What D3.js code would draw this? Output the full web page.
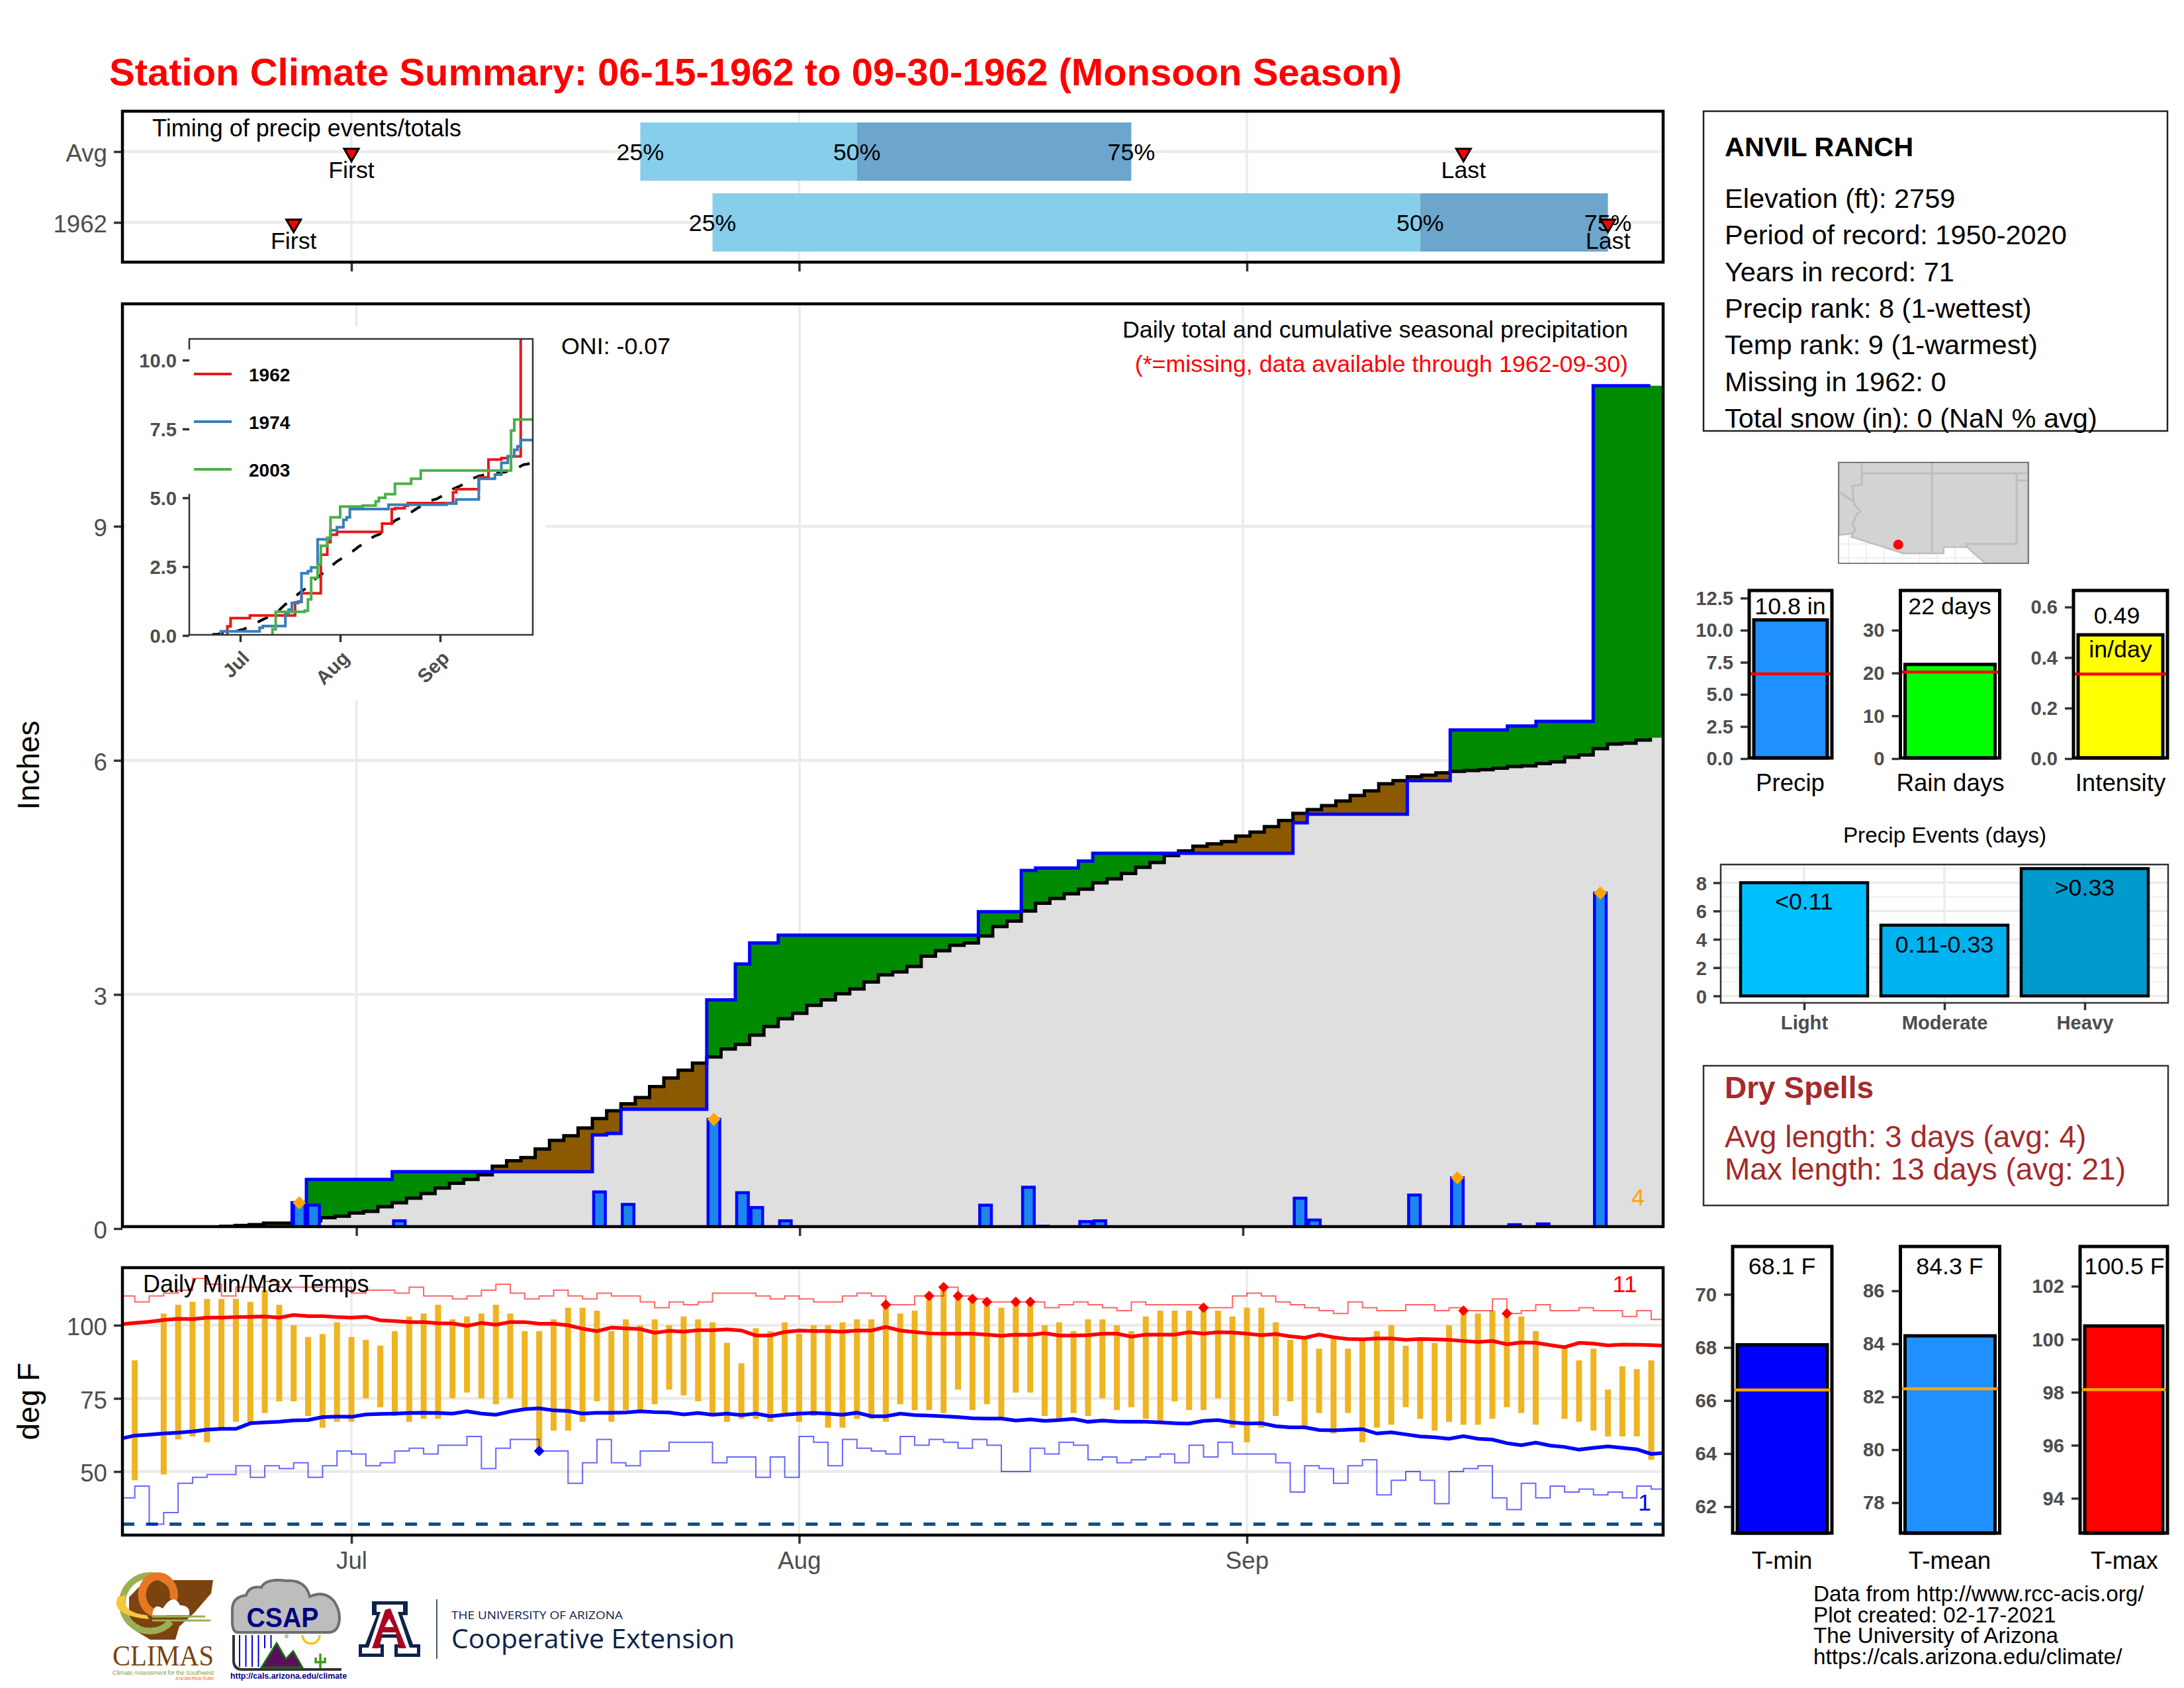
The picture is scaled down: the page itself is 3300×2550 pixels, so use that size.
<!DOCTYPE html>
<html>
<head>
<meta charset="utf-8">
<script src="https://cdn.jsdelivr.net/npm/d3@7"></script>
<style>
body { margin: 0; background: #fff; }
text { font-family: "Liberation Sans", Arial, sans-serif; }
</style>
</head>
<body>
<svg id="chart" width="3300" height="2550"></svg>
<script>
// days are counted from Jun 15 (0) to Sep 30 (107)
let monthDays = [16, 47, 78];
let monthLabels = ['Jul', 'Aug', 'Sep'];

let timingRows = ['Avg', '1962'];
let timingFirst = [16, 12];
let timing25 = [36, 41];
let timing50 = [51, 90];
let timing75 = [70, 103];
let timingLast = [93, 103];

let rainDays = [12, 13, 19, 33, 34, 35, 41, 43, 44, 46, 60, 63, 64, 67, 68, 82, 83, 90, 93, 97, 99, 103];
let rainTotals = [0.33, 0.30, 0.10, 0.47, 0.02, 0.31, 1.40, 0.46, 0.27, 0.10, 0.30, 0.53, 0.03, 0.09, 0.10, 0.39, 0.11, 0.43, 0.65, 0.05, 0.06, 4.30];
let extremeRainDays = [12, 41, 93, 103];

let avgCumulative = [
	0, 0, 0, 0, 0, 0, 0.02, 0.03, 0.04, 0.05, 0.07, 0.07, 0.09, 0.10, 0.14, 0.16, 0.20, 0.22,
	0.28, 0.33, 0.39, 0.45, 0.52, 0.58, 0.63, 0.69, 0.80, 0.87, 0.91, 1.02, 1.13, 1.19, 1.29,
	1.41, 1.51, 1.60, 1.68, 1.82, 1.93, 2.03, 2.12, 2.20, 2.30, 2.36, 2.48, 2.59, 2.69, 2.76,
	2.86, 2.93, 3.01, 3.07, 3.16, 3.25, 3.29, 3.36, 3.49, 3.56, 3.63, 3.66, 3.75, 3.87, 3.94,
	4.07, 4.17, 4.23, 4.29, 4.35, 4.43, 4.48, 4.55, 4.63, 4.69, 4.78, 4.84, 4.90, 4.93, 4.96,
	5.03, 5.08, 5.15, 5.23, 5.32, 5.37, 5.42, 5.48, 5.55, 5.61, 5.70, 5.74, 5.79, 5.81, 5.84,
	5.86, 5.87, 5.88, 5.90, 5.92, 5.93, 5.96, 5.98, 6.04, 6.07, 6.15, 6.21, 6.22, 6.26, 6.29
];

let inset1974Days = [0, 10, 22, 23, 30, 31, 32, 34, 35, 37, 38, 40, 44, 46, 48, 49, 50, 62, 80, 83, 90, 95, 97, 99, 101, 102, 103, 107];
let inset1974Totals = [0, 0.15, 0.28, 0.34, 0.77, 0.94, 1.18, 1.24, 2.26, 2.34, 2.47, 3.49, 3.82, 3.93, 4.20, 4.29, 4.59, 4.75, 4.79, 4.94, 5.69, 5.84, 6.27, 6.50, 6.74, 6.87, 7.10, 7.10];
let inset2003Days = [0, 26, 27, 36, 37, 38, 40, 41, 43, 44, 47, 54, 58, 59, 61, 64, 69, 72, 100, 101, 107];
let inset2003Totals = [0, 0.23, 0.86, 0.90, 1.31, 2.09, 2.58, 3.26, 3.55, 4.29, 4.68, 4.72, 4.87, 5.00, 5.13, 5.51, 5.69, 5.99, 7.44, 7.84, 7.84];

let dailyMax = [
	null, 88, null, 104, 107, 108, 109, 109, 109, 108, 112, 107, 100, 96, 97, 101, 96, 95, 93, 98,
	103, 104, 107, 102, 103, 104, 107, 104, 98, 98, 102, 106, 106, 105, 98, 102, 100, 102, 100, 103,
	102, 101, 94, 87, 99, 98, 101, 97, 100, 100, 101, 102, 102, 107, 104, 105, 110, 113, 110, 109,
	108, 106, 108, 108, 100, 101, 98, 102, 102, 100, 98, 103, 105, 105, 105, 106, 105, 103, 106, 106,
	101, 95, 96, 92, 96, 92, 95, 98, 100, 93, 95, 94, 100, 105, 104, 105, 104, 103, 98, null,
	92, 88, 92, 78, 86, 85, 88, null
];
let dailyMin = [
	null, 47, null, 49, 61, 62, 60, 65, 67, 67, 70, 74, 74, 69, 65, 67, 67, 75, 72, 69,
	67, 68, 68, 75, 77, 75, 73, 75, 72, 57, 64, 64, 67, 74, 67, 71, 70, 73, 78, 76,
	74, 70, 67, 68, 68, 67, 70, 67, 69, 65, 65, 68, 68, 67, 73, 71, 71, 70, 78, 71,
	73, 68, 77, 77, 69, 68, 70, 69, 75, 71, 72, 68, 67, 74, 71, 71, 75, 65, 60, 65,
	69, 74, 65, 70, 63, 70, 60, 65, 66, 72, 68, 64, 67, 66, 66, 68, 72, 70, 66, null,
	68, 67, 64, 62, 62, 62, 54, null
];
let recordHigh = [
	110, 108, 110, 111, 112, 116, 114, 110, 113, 113, 115, 113, 113, 113, 113, 113, 111, 112, 112, 111,
	113, 110, 110, 109, 110, 112, 114, 111, 109, 110, 112, 110, 109, 111, 110, 110, 108, 106, 108, 107,
	108, 111, 111, 111, 110, 109, 110, 109, 108, 108, 110, 111, 110, 107, 107, 110, 110, 113, 110, 109,
	108, 108, 108, 108, 106, 107, 108, 107, 106, 105, 108, 107, 107, 107, 107, 106, 106, 110, 111, 110,
	108, 107, 106, 105, 104, 108, 106, 105, 105, 107, 107, 105, 106, 105, 105, 109, 104, 105, 107, 105,
	105, 106, 105, 105, 103, 105, 102, 102
];
let recordLow = [
	41, 45, 32, 36, 46, 48, 49, 49, 52, 48, 52, 51, 53, 48, 52, 57, 56, 52, 53, 57,
	58, 56, 59, 59, 62, 51, 58, 61, 61, 57, 57, 46, 53, 61, 53, 52, 57, 57, 60, 60,
	60, 53, 55, 55, 48, 55, 48, 62, 60, 52, 61, 58, 57, 56, 62, 59, 61, 60, 58, 61,
	59, 50, 50, 58, 56, 60, 59, 54, 55, 53, 54, 55, 56, 53, 59, 55, 60, 56, 56, 56,
	53, 43, 52, 51, 46, 52, 54, 42, 47, 50, 47, 39, 50, 51, 52, 41, 37, 46, 41, 45,
	43, 44, 42, 43, 41, 45, 44, 44
];
let normalMax = [
	100.3, 100.8, 101.2, 101.8, 102.2, 102.1, 102.6, 102.6, 102.8, 102.9, 103.0, 102.6, 103.5, 103.1, 103.1, 102.8, 102.6, 102.9,
	101.7, 101.4, 101.1, 101.1, 100.7, 100.6, 99.8, 100.8, 100.2, 101.1, 101.1, 100.5, 100.5, 100.0, 98.8, 98.0, 99.2, 98.9,
	98.7, 97.4, 98.1, 97.8, 98.3, 98.3, 98.6, 98.2, 96.5, 96.5, 97.7, 98.2, 98.0, 98.0, 97.8, 98.2, 98.2, 99.4,
	98.2, 97.7, 97.2, 97.1, 97.1, 97.1, 96.8, 96.4, 96.8, 96.7, 97.3, 96.5, 96.5, 96.6, 97.1, 97.1, 96.1, 96.8,
	96.8, 96.8, 97.6, 97.1, 97.6, 97.5, 97.1, 96.6, 97.0, 96.2, 95.7, 96.8, 95.9, 95.3, 95.2, 95.5, 95.5, 95.0,
	95.3, 95.2, 95.0, 94.6, 94.3, 94.6, 93.5, 94.1, 94.0, 93.2, 92.5, 94.0, 93.7, 93.1, 93.4, 93.3, 93.2, 93.0
];
let normalMin = [
	61.2, 62.3, 62.6, 63.0, 63.3, 63.7, 64.3, 64.6, 64.6, 66.5, 66.8, 67.0, 67.5, 67.6, 68.6, 68.8, 68.7, 69.5,
	69.7, 69.8, 70.0, 70.1, 70.0, 69.8, 70.6, 69.8, 69.4, 70.5, 71.3, 71.6, 70.9, 70.7, 69.8, 70.1, 70.1, 70.2,
	70.6, 70.3, 70.2, 69.5, 70.0, 69.4, 69.8, 69.3, 69.8, 68.9, 69.4, 69.8, 70.0, 69.8, 69.4, 70.1, 68.9, 68.9,
	69.8, 69.3, 69.1, 68.9, 68.6, 68.2, 68.1, 68.1, 67.4, 67.8, 67.3, 67.6, 68.0, 67.0, 67.4, 67.1, 67.0, 67.0,
	66.8, 66.5, 66.4, 67.3, 67.6, 66.8, 66.4, 66.5, 65.5, 65.1, 65.1, 64.2, 64.1, 64.3, 64.5, 63.0, 63.4, 62.7,
	62.0, 61.7, 61.2, 62.1, 61.2, 60.9, 59.7, 59.0, 59.9, 58.9, 58.4, 57.5, 58.1, 58.6, 58.1, 57.6, 56.0, 56.4
];

let eventLabels = ['Light', 'Moderate', 'Heavy'];
let eventDays = [8, 5, 9];
let eventRanges = ['<0.11', '0.11-0.33', '>0.33'];
let eventColors = ['#00BFFF', '#00B2EE', '#009ACD'];

let infoLines = ['Elevation (ft): 2759', 'Period of record: 1950-2020', 'Years in record: 71',
	'Precip rank: 8 (1-wettest)', 'Temp rank: 9 (1-warmest)', 'Missing in 1962: 0', 'Total snow (in): 0 (NaN % avg)'];
let creditLines = ['Data from http://www.rcc-acis.org/', 'Plot created: 02-17-2021',
	'The University of Arizona', 'https://cals.arizona.edu/climate/'];

// state outline of the locator map, lon/lat
let mapBorder = [[-115.7, 37.85], [-115.7, 32.63], [-114.72, 32.72], [-114.81, 32.5], [-111.07, 31.33], [-108.21, 31.33],
	[-108.21, 31.78], [-106.53, 31.78], [-106.4, 31.65], [-105.2, 30.6], [-102.2, 30.6], [-102.2, 37.85]];
let mapStateLines = [
	[[-115.7, 35.7], [-114.63, 35.0], [-114.57, 34.8], [-114.14, 34.3], [-114.43, 34.1], [-114.72, 33.4], [-114.5, 33.0], [-114.72, 32.72]],
	[[-114.63, 35.0], [-114.74, 36.1], [-114.05, 36.2], [-114.05, 37.85]],
	[[-114.05, 37], [-102.2, 37]],
	[[-109.05, 37.85], [-109.05, 31.33]],
	[[-103, 37], [-103, 32], [-106.6, 32], [-106.53, 31.78]],
	[[-103, 36.5], [-102.2, 36.5]]
];
let stationLonLat = [-111.45, 31.95];

const GRID = '#EBEBEB';
const AXIS_TEXT = '#4D4D4D';
const TICK = '#333333';
const FONT_ANNOT = 35.8;
const FONT_AXIS = 36.7;
const FONT_SMALL = 29.2;

let allDays = d3.range(108);
let dailyPrecip = allDays.map(d => {
	let pos = rainDays.indexOf(d);
	return pos < 0 ? 0 : rainTotals[pos];
});
let cumulative = Array.from(d3.cumsum(dailyPrecip));

let svg = d3.select('#chart');
svg.append('rect').attr('width', 3300).attr('height', 2550).attr('fill', '#fff');

function addText(parent, x, y, txt, opts) {
	opts = opts || {};
	return parent.append('text')
		.attr('x', x)
		.attr('y', y)
		.attr('dy', '0.36em')
		.attr('text-anchor', opts.anchor || 'start')
		.attr('font-size', opts.size || FONT_ANNOT)
		.attr('font-weight', opts.weight || 'normal')
		.attr('fill', opts.fill || '#000')
		.text(txt);
}

function styleAxis(g, size, weight, leftDy) {
	g.select('.domain').remove();
	g.selectAll('line').attr('stroke', TICK).attr('stroke-width', 3.5);
	g.selectAll('text')
		.attr('font-size', size)
		.attr('font-weight', weight || 'normal')
		.attr('font-family', '"Liberation Sans", Arial, sans-serif')
		.attr('fill', AXIS_TEXT);
	// left axes sit a little lower than d3's default
	if (leftDy) {
		g.selectAll('text').attr('dy', leftDy);
	}
}

function addClip(id, x, y, w, h) {
	svg.append('clipPath').attr('id', id)
		.append('rect').attr('x', x).attr('y', y).attr('width', w).attr('height', h);
}

function addFrame(x, y, w, h, width, color) {
	svg.append('rect')
		.attr('x', x).attr('y', y).attr('width', w).attr('height', h)
		.attr('fill', 'none').attr('stroke', color || '#000').attr('stroke-width', width || 4.5);
}

function gridLines(parent, xs, ys, box, width) {
	xs.forEach(v => parent.append('line').attr('x1', v).attr('x2', v).attr('y1', box.top).attr('y2', box.bottom)
		.attr('stroke', GRID).attr('stroke-width', width));
	ys.forEach(v => parent.append('line').attr('y1', v).attr('y2', v).attr('x1', box.left).attr('x2', box.right)
		.attr('stroke', GRID).attr('stroke-width', width));
}

svg.append('text')
	.attr('x', 165).attr('y', 129)
	.attr('font-size', 58).attr('font-weight', 'bold').attr('fill', '#FF0000')
	.text('Station Climate Summary: 06-15-1962 to 09-30-1962 (Monsoon Season)');

// shared day scale of the timing and temperature panels
let seasonX = d3.scaleLinear().domain([16, 78]).range([531, 1884]);

drawTiming();
drawPrecip();
drawInset();
drawTemps();
drawInfo();
drawMap();
drawGauges();
drawEvents();
drawDrySpells();
drawTempGauges();
drawCredits();
drawLogos();

function drawTiming() {
	let box = { left: 185, right: 2513, top: 168, bottom: 396 };
	let y = d3.scalePoint().domain(timingRows).range([229, 336]);
	let g = svg.append('g');

	gridLines(g, monthDays.map(seasonX), [], box, 3.5);
	gridLines(g, [], timingRows.map(y), box, 4.5);

	timingRows.forEach((row, i) => {
		g.append('rect')
			.attr('x', seasonX(timing25[i])).attr('width', seasonX(timing50[i]) - seasonX(timing25[i]))
			.attr('y', y(row) - 44).attr('height', 88).attr('fill', '#87CEEB');
		g.append('rect')
			.attr('x', seasonX(timing50[i])).attr('width', seasonX(timing75[i]) - seasonX(timing50[i]))
			.attr('y', y(row) - 44).attr('height', 88).attr('fill', '#6CA6CD');
	});

	timingRows.forEach((row, i) => {
		addText(g, seasonX(timing25[i]), y(row), '25%', { anchor: 'middle' });
		addText(g, seasonX(timing50[i]), y(row), '50%', { anchor: 'middle' });
		addText(g, seasonX(timing75[i]), y(row), '75%', { anchor: 'middle' });
		[timingFirst[i], timingLast[i]].forEach(day => {
			g.append('path')
				.attr('d', d3.symbol().type(d3.symbolTriangle).size(209))
				.attr('transform', `translate(${seasonX(day)},${y(row) + 2}) rotate(180)`)
				.attr('fill', '#FF0000').attr('stroke', '#000').attr('stroke-width', 3);
		});
		addText(g, seasonX(timingFirst[i]), y(row) + 27, 'First', { anchor: 'middle' });
		addText(g, seasonX(timingLast[i]), y(row) + 27, 'Last', { anchor: 'middle' });
	});

	addText(g, 230, 193, 'Timing of precip events/totals', { size: 36 });

	let xAxis = svg.append('g').attr('transform', `translate(0,${box.bottom})`)
		.call(d3.axisBottom(seasonX).tickValues(monthDays).tickSize(14).tickFormat(''));
	styleAxis(xAxis, FONT_AXIS);
	let yAxis = svg.append('g').attr('transform', `translate(${box.left},0)`)
		.call(d3.axisLeft(y).tickSize(13).tickPadding(10));
	styleAxis(yAxis, FONT_AXIS, 'normal', '0.4em');
	addFrame(box.left, box.top, box.right - box.left, box.bottom - box.top);
}

function drawPrecip() {
	let box = { left: 185, right: 2513, top: 459, bottom: 1853 };
	let x = d3.scaleLinear().domain([16, 78]).range([538.6, 1878]);
	let y = d3.scaleLinear().domain([0, 9]).range([1856, 795]);
	addClip('precip-clip', box.left, box.top, box.right - box.left, box.bottom - box.top);
	let g = svg.append('g');

	gridLines(g, monthDays.map(x), [], box, 3.5);
	gridLines(g, [], [3, 6, 9].map(y), box, 4.5);

	let plot = g.append('g').attr('clip-path', 'url(#precip-clip)');
	// each day covers its own bar width, so steps sit on day edges
	let rows = allDays.map(d => ({ day: d, total: cumulative[d], avg: avgCumulative[d] }));
	rows.push({ day: 108, total: cumulative[107], avg: avgCumulative[107] });
	let area = d3.area().x(d => x(d.day - 0.5)).curve(d3.curveStepAfter);

	plot.append('path').datum(rows)
		.attr('fill', '#DFDFDF')
		.attr('d', area.y0(y(0)).y1(d => y(Math.min(d.total, d.avg))));
	plot.append('path').datum(rows)
		.attr('fill', '#008B00')
		.attr('d', area.y0(d => y(d.avg)).y1(d => y(Math.max(d.total, d.avg))));
	plot.append('path').datum(rows)
		.attr('fill', '#8B5A00')
		.attr('d', area.y0(d => y(d.total)).y1(d => y(Math.max(d.total, d.avg))));

	let lineRows = rows.slice(0, 108);
	plot.append('path').datum(lineRows)
		.attr('fill', 'none').attr('stroke', '#000').attr('stroke-width', 5)
		.attr('d', d3.line().x(d => x(d.day - 0.5)).y(d => y(d.avg)).curve(d3.curveStepAfter));
	plot.append('path').datum(lineRows)
		.attr('fill', 'none').attr('stroke', '#0000FF').attr('stroke-width', 5)
		.attr('d', d3.line().x(d => x(d.day - 0.5)).y(d => y(d.total)).curve(d3.curveStepAfter));

	plot.selectAll('.rain-bar')
		.data(rainDays)
		.enter()
		.append('rect')
		.attr('class', 'rain-bar')
		.attr('x', d => x(d) - 8.8)
		.attr('width', 17.6)
		.attr('y', d => y(dailyPrecip[d]))
		.attr('height', d => y(0) - y(dailyPrecip[d]))
		.attr('fill', '#1C86EE').attr('stroke', '#0000FF').attr('stroke-width', 4.5);

	plot.selectAll('.rain-extreme')
		.data(extremeRainDays)
		.enter()
		.append('path')
		.attr('class', 'rain-extreme')
		.attr('d', d3.symbol().type(d3.symbolDiamond2).size(255))
		.attr('transform', d => `translate(${x(d)},${y(dailyPrecip[d])})`)
		.attr('fill', '#FFA500');

	addText(g, 2475, 1808, String(extremeRainDays.length), { anchor: 'middle', fill: '#FFA500' });

	addText(g, 2460, 497, 'Daily total and cumulative seasonal precipitation', { anchor: 'end' });
	addText(g, 2460, 549, '(*=missing, data available through 1962-09-30)', { anchor: 'end', fill: '#FF0000' });
	addText(g, 848, 522, 'ONI: -0.07');

	let xAxis = svg.append('g').attr('transform', `translate(0,${box.bottom})`)
		.call(d3.axisBottom(x).tickValues(monthDays).tickSize(14).tickFormat(''));
	styleAxis(xAxis, FONT_AXIS);
	let yAxis = svg.append('g').attr('transform', `translate(${box.left},0)`)
		.call(d3.axisLeft(y).tickValues([0, 3, 6, 9]).tickSize(13).tickPadding(10));
	styleAxis(yAxis, FONT_AXIS, 'normal', '0.4em');

	svg.append('text')
		.attr('transform', 'translate(42,1156) rotate(-90)')
		.attr('dy', '0.36em').attr('text-anchor', 'middle').attr('font-size', 45.8).text('Inches');
	addFrame(box.left, box.top, box.right - box.left, box.bottom - box.top);
}

function drawInset() {
	let box = { left: 286, right: 805, top: 512, bottom: 959 };
	let x = d3.scaleLinear().domain([16, 78]).range([363, 665]);
	let y = d3.scaleLinear().domain([0, 10]).range([960, 544]);
	let g = svg.append('g');

	g.append('rect').attr('x', 190).attr('y', 493).attr('width', 635).attr('height', 565).attr('fill', '#fff');
	addClip('inset-clip', box.left, box.top, box.right - box.left, box.bottom - box.top);
	let plot = g.append('g').attr('clip-path', 'url(#inset-clip)');

	let step = d3.line().x(d => x(d[0])).y(d => y(d[1])).curve(d3.curveStepAfter);
	let series = [
		{ color: '#E41A1C', points: allDays.map(d => [d, cumulative[d]]) },
		{ color: '#377EB8', points: inset1974Days.map((d, i) => [d, inset1974Totals[i]]) },
		{ color: '#4DAF4A', points: inset2003Days.map((d, i) => [d, inset2003Totals[i]]) }
	];
	plot.append('path').datum(allDays.map(d => [d, avgCumulative[d]]))
		.attr('fill', 'none').attr('stroke', '#000').attr('stroke-width', 4)
		.attr('stroke-dasharray', '17,19')
		.attr('d', d3.line().x(d => x(d[0])).y(d => y(d[1])));
	series.forEach(s => {
		plot.append('path').datum(s.points)
			.attr('fill', 'none').attr('stroke', s.color).attr('stroke-width', 4)
			.attr('d', step);
	});

	g.append('rect')
		.attr('x', box.left).attr('y', box.top).attr('width', box.right - box.left).attr('height', box.bottom - box.top)
		.attr('fill', 'none').attr('stroke', TICK).attr('stroke-width', 2.5);

	// legend sits on top of the frame
	g.append('rect').attr('x', 283).attr('y', 528).attr('width', 160).attr('height', 218).attr('fill', '#fff');
	['1962', '1974', '2003'].forEach((label, i) => {
		let ly = 565 + i * 72;
		g.append('line').attr('x1', 293).attr('x2', 350).attr('y1', ly).attr('y2', ly)
			.attr('stroke', series[i].color).attr('stroke-width', 4);
		addText(g, 376, ly + 1, label, { size: 28, weight: 'bold' });
	});

	let xAxis = svg.append('g').attr('transform', `translate(0,${box.bottom})`)
		.call(d3.axisBottom(x).tickValues(monthDays).tickSize(11).tickFormat((d, i) => monthLabels[i]));
	styleAxis(xAxis, FONT_SMALL, 'bold');
	xAxis.selectAll('text')
		.attr('text-anchor', 'end').attr('dy', 0).attr('y', 0)
		.attr('transform', 'translate(15,37) rotate(-45)');
	let yAxis = svg.append('g').attr('transform', `translate(${box.left},0)`)
		.call(d3.axisLeft(y).tickValues([0, 2.5, 5, 7.5, 10]).tickFormat(d3.format('.1f')).tickSize(10).tickPadding(9));
	styleAxis(yAxis, FONT_SMALL, 'bold', '0.36em');
}

function drawTemps() {
	let box = { left: 185, right: 2513, top: 1915, bottom: 2319 };
	let x = seasonX;
	let y = d3.scaleLinear().domain([50, 100]).range([2223, 2002]);
	addClip('temp-clip', box.left, box.top, box.right - box.left, box.bottom - box.top);
	let g = svg.append('g');

	gridLines(g, monthDays.map(x), [], box, 3.5);
	gridLines(g, [], [50, 75, 100].map(y), box, 4.5);
	let plot = g.append('g').attr('clip-path', 'url(#temp-clip)');

	plot.append('line')
		.attr('x1', box.left).attr('x2', box.right).attr('y1', y(32)).attr('y2', y(32))
		.attr('stroke', '#104E8B').attr('stroke-width', 5).attr('stroke-dasharray', '18,17.6');

	let tempDays = allDays.filter(d => dailyMax[d] !== null);
	plot.selectAll('.temp-bar')
		.data(tempDays)
		.enter()
		.append('rect')
		.attr('class', 'temp-bar')
		.attr('x', d => x(d) - 4.5)
		.attr('width', 9)
		.attr('y', d => y(dailyMax[d]))
		.attr('height', d => y(dailyMin[d]) - y(dailyMax[d]))
		.attr('fill', '#EEB422');

	let stepLine = d3.line().x((d, i) => x(i)).y(d => y(d)).curve(d3.curveStepAfter);
	plot.append('path').datum(recordHigh)
		.attr('fill', 'none').attr('stroke', '#FF0000').attr('stroke-opacity', 0.6).attr('stroke-width', 2)
		.attr('d', stepLine);
	plot.append('path').datum(recordLow)
		.attr('fill', 'none').attr('stroke', '#0000FF').attr('stroke-opacity', 0.6).attr('stroke-width', 2)
		.attr('d', stepLine);

	let meanLine = d3.line().x((d, i) => x(i)).y(d => y(d));
	plot.append('path').datum(normalMax)
		.attr('fill', 'none').attr('stroke', '#FF0000').attr('stroke-width', 5.5)
		.attr('d', meanLine);
	plot.append('path').datum(normalMin)
		.attr('fill', 'none').attr('stroke', '#0000FF').attr('stroke-width', 5.5)
		.attr('d', meanLine);

	let hotDays = tempDays.filter(d => dailyMax[d] >= recordHigh[d]);
	let coldDays = tempDays.filter(d => dailyMin[d] <= recordLow[d]);
	let diamond = d3.symbol().type(d3.symbolDiamond2).size(163);
	plot.selectAll('.hot-day')
		.data(hotDays)
		.enter()
		.append('path')
		.attr('class', 'hot-day')
		.attr('d', diamond)
		.attr('transform', d => `translate(${x(d)},${y(dailyMax[d])})`)
		.attr('fill', '#FF0000');
	plot.selectAll('.cold-day')
		.data(coldDays)
		.enter()
		.append('path')
		.attr('class', 'cold-day')
		.attr('d', diamond)
		.attr('transform', d => `translate(${x(d)},${y(dailyMin[d])})`)
		.attr('fill', '#0000FF');

	addText(g, 216, 1939, 'Daily Min/Max Temps', { size: 36 });
	addText(g, 2455, 1939, String(hotDays.length), { anchor: 'middle', fill: '#FF0000' });
	addText(g, 2485, 2269, String(coldDays.length), { anchor: 'middle', fill: '#0000FF' });

	let xAxis = svg.append('g').attr('transform', `translate(0,${box.bottom})`)
		.call(d3.axisBottom(x).tickValues(monthDays).tickSize(13).tickPadding(12).tickFormat((d, i) => monthLabels[i]));
	styleAxis(xAxis, FONT_AXIS);
	let yAxis = svg.append('g').attr('transform', `translate(${box.left},0)`)
		.call(d3.axisLeft(y).tickValues([50, 75, 100]).tickSize(13).tickPadding(10));
	styleAxis(yAxis, FONT_AXIS, 'normal', '0.4em');

	svg.append('text')
		.attr('transform', 'translate(42,2117) rotate(-90)')
		.attr('dy', '0.36em').attr('text-anchor', 'middle').attr('font-size', 45.8).text('deg F');
	addFrame(box.left, box.top, box.right - box.left, box.bottom - box.top);
}

function drawInfo() {
	addFrame(2574, 168, 701, 483, 2.5, '#222');
	addText(svg, 2606, 221, 'ANVIL RANCH', { size: 41.5, weight: 'bold' });
	let lineY = d3.scalePoint().domain(infoLines).range([299, 631]);
	infoLines.forEach(line => addText(svg, 2606, lineY(line), line, { size: 41.5 }));
}

function drawMap() {
	let lon = d3.scaleLinear().domain([-109.05, -103]).range([2919, 3047]);
	let lat = d3.scaleLinear().domain([37, 31.33]).range([715, 836]);
	let box = { left: 2778, right: 3065, top: 698.5, bottom: 851 };
	let g = svg.append('g');
	let path = d3.line().x(d => lon(d[0])).y(d => lat(d[1]));
	addClip('map-clip', box.left, box.top, box.right - box.left, box.bottom - box.top);
	let plot = g.append('g').attr('clip-path', 'url(#map-clip)');

	plot.append('rect').attr('x', box.left).attr('y', box.top)
		.attr('width', box.right - box.left).attr('height', box.bottom - box.top).attr('fill', '#fff');
	gridLines(plot, d3.range(-115, -103, 1.27).map(lon), [31, 32].map(lat), box, 1.5);
	plot.append('path').datum(mapBorder)
		.attr('d', d => path(d) + 'Z')
		.attr('fill', '#D3D3D3').attr('stroke', '#BEBEBE').attr('stroke-width', 2.5);
	mapStateLines.forEach(line => {
		plot.append('path').datum(line).attr('d', path)
			.attr('fill', 'none').attr('stroke', '#BEBEBE').attr('stroke-width', 3);
	});
	plot.append('circle')
		.attr('cx', lon(stationLonLat[0])).attr('cy', lat(stationLonLat[1])).attr('r', 7.5)
		.attr('fill', '#FF0000');
	addFrame(box.left, box.top, box.right - box.left, box.bottom - box.top, 1.5, '#555');
}

// one thermometer style bar with frame, tick axis and reference line
function drawGauge(o) {
	let g = svg.append('g');
	let y = d3.scaleLinear().domain(o.domain).range(o.range);
	g.append('rect')
		.attr('x', o.left).attr('y', o.top).attr('width', o.right - o.left).attr('height', o.bottom - o.top)
		.attr('fill', '#fff');
	g.append('rect')
		.attr('x', o.left + o.inset).attr('width', o.right - o.left - 2 * o.inset)
		.attr('y', y(o.value)).attr('height', o.bottom - y(o.value))
		.attr('fill', o.color).attr('stroke', '#000').attr('stroke-width', 5);
	g.append('line')
		.attr('x1', o.left + 2).attr('x2', o.right - 2).attr('y1', y(o.ref)).attr('y2', y(o.ref))
		.attr('stroke', o.refColor).attr('stroke-width', 4.5);
	addFrame(o.left, o.top, o.right - o.left, o.bottom - o.top, 5);

	let axis = svg.append('g').attr('transform', `translate(${o.left - 2},0)`)
		.call(d3.axisLeft(y).tickValues(o.ticks).tickFormat(d3.format(o.format)).tickSize(11).tickPadding(11));
	styleAxis(axis, FONT_SMALL, 'bold', '0.34em');

	o.labels.forEach(l => addText(g, l[0], l[1], l[2], { anchor: 'middle', size: FONT_ANNOT }));
	addText(g, o.captionX, o.captionY, o.caption, { anchor: 'middle', size: FONT_AXIS });
}

function drawGauges() {
	let shared = { top: 892, bottom: 1145, captionY: 1182, refColor: '#FF0000', inset: 7 };
	drawGauge(Object.assign({}, shared, {
		left: 2643, right: 2768, domain: [0, 10], range: [1146, 952], value: 10.8, ref: 6.6, color: '#1E90FF',
		ticks: [0, 2.5, 5, 7.5, 10, 12.5], format: '.1f',
		labels: [[2705, 915, '10.8 in']], caption: 'Precip', captionX: 2705
	}));
	drawGauge(Object.assign({}, shared, {
		left: 2871.5, right: 3021.5, domain: [0, 30], range: [1146, 952], value: 22, ref: 20.2, color: '#00FF00',
		ticks: [0, 10, 20, 30], format: 'd',
		labels: [[2946, 915, '22 days']], caption: 'Rain days', captionX: 2947
	}));
	drawGauge(Object.assign({}, shared, {
		left: 3133, right: 3275, domain: [0, 0.6], range: [1146, 917], value: 0.49, ref: 0.335, color: '#FFFF00',
		ticks: [0, 0.2, 0.4, 0.6], format: '.1f',
		labels: [[3198.5, 929, '0.49'], [3204, 980, 'in/day']], caption: 'Intensity', captionX: 3204
	}));
}

function drawEvents() {
	let box = { left: 2600, right: 3276, top: 1306, bottom: 1515 };
	let x = d3.scalePoint().domain(eventLabels).range([2726, 3150]);
	let y = d3.scaleLinear().domain([0, 8]).range([1504.5, 1333.5]);
	let g = svg.append('g');

	gridLines(g, [], [1, 3, 5, 7, 9].map(y), box, 1.5);
	gridLines(g, eventLabels.map(x), [0, 2, 4, 6, 8].map(y), box, 3.5);

	g.selectAll('.event-bar')
		.data(eventLabels)
		.enter()
		.append('rect')
		.attr('class', 'event-bar')
		.attr('x', d => x(d) - 96)
		.attr('width', 192)
		.attr('y', (d, i) => y(eventDays[i]))
		.attr('height', (d, i) => y(0) - y(eventDays[i]))
		.attr('fill', (d, i) => eventColors[i])
		.attr('stroke', '#000').attr('stroke-width', 4.5);

	eventLabels.forEach((d, i) => {
		addText(g, x(d), y(eventDays[i]) + 28, eventRanges[i], { anchor: 'middle' });
	});

	addFrame(box.left, box.top, box.right - box.left, box.bottom - box.top, 2.5, TICK);
	addText(svg, 2938.5, 1261, 'Precip Events (days)', { anchor: 'middle', size: 33.3 });

	let xAxis = svg.append('g').attr('transform', `translate(0,${box.bottom})`)
		.call(d3.axisBottom(x).tickSize(11).tickPadding(8));
	styleAxis(xAxis, FONT_SMALL, 'bold');
	let yAxis = svg.append('g').attr('transform', `translate(${box.left},0)`)
		.call(d3.axisLeft(y).tickValues([0, 2, 4, 6, 8]).tickSize(11).tickPadding(10));
	styleAxis(yAxis, FONT_SMALL, 'bold', '0.36em');
}

function drawDrySpells() {
	addFrame(2574, 1610, 702, 211, 2.5, TICK);
	addText(svg, 2606, 1642, 'Dry Spells', { size: 46, weight: 'bold', fill: '#A52A2A' });
	addText(svg, 2606, 1716, 'Avg length: 3 days (avg: 4)', { size: 46, fill: '#A52A2A' });
	addText(svg, 2606, 1765, 'Max length: 13 days (avg: 21)', { size: 46, fill: '#A52A2A' });
}

function drawTempGauges() {
	let shared = { top: 1883, bottom: 2316, captionY: 2357, refColor: '#FFA500', inset: 7 };
	drawGauge(Object.assign({}, shared, {
		left: 2618, right: 2768, domain: [62, 70], range: [2276, 1955.4], value: 68.1, ref: 66.4, color: '#0000FF',
		ticks: [62, 64, 66, 68, 70], format: 'd',
		labels: [[2692.6, 1912, '68.1 F']], caption: 'T-min', captionX: 2692.6
	}));
	drawGauge(Object.assign({}, shared, {
		left: 2871.5, right: 3021.5, domain: [78, 86], range: [2270, 1950], value: 84.3, ref: 82.3, color: '#1E90FF',
		ticks: [78, 80, 82, 84, 86], format: 'd',
		labels: [[2946, 1912, '84.3 F']], caption: 'T-mean', captionX: 2946
	}));
	drawGauge(Object.assign({}, shared, {
		left: 3143, right: 3275, domain: [94, 102], range: [2263.4, 1943], value: 100.5, ref: 98.1, color: '#FF0000',
		ticks: [94, 96, 98, 100, 102], format: 'd',
		labels: [[3210, 1912, '100.5 F']], caption: 'T-max', captionX: 3210
	}));
}

function drawCredits() {
	let lineY = d3.scalePoint().domain(creditLines).range([2407, 2502]);
	creditLines.forEach(line => addText(svg, 2740, lineY(line), line, { size: 33.3 }));
}

function drawLogos() {
	let g = svg.append('g');

	// CLIMAS
	g.append('path')
		.attr('d', 'M220 2387 L322 2387 L319 2407 L293 2437 L271 2457 L265 2477 L227 2477 L204 2463 L195 2440 L195 2413 Z')
		.attr('fill', '#7B4310');
	g.append('path')
		.attr('d', 'M262 2450 A42 42 0 1 1 262 2394')
		.attr('transform', 'translate(-4,0)')
		.attr('fill', 'none').attr('stroke', '#9DAF54').attr('stroke-width', 10);
	g.append('path')
		.attr('d', 'M250 2434 A24 28 0 1 1 262 2416')
		.attr('fill', 'none').attr('stroke', '#E87722').attr('stroke-width', 12);
	g.append('path')
		.attr('d', 'M230 2440 Q232 2420 246 2430 Q262 2405 272 2425 Q288 2425 286 2440 Z')
		.attr('fill', '#fff');
	g.append('path')
		.attr('d', 'M178 2412 Q165 2440 225 2446 L222 2440 Q182 2436 190 2410 Z')
		.attr('fill', '#F6C83C');
	g.append('path')
		.attr('d', 'M230 2442 L310 2442 M230 2448 L318 2448')
		.attr('stroke', '#9DAF54').attr('stroke-width', 3);
	svg.append('text')
		.attr('x', 246.5).attr('y', 2516).attr('text-anchor', 'middle')
		.attr('font-size', 44).attr('fill', '#7B4310')
		.attr('textLength', 153).attr('lengthAdjust', 'spacingAndGlyphs')
		.style('font-family', '"Liberation Serif", serif')
		.text('CLIMAS');
	g.append('text').attr('x', 170).attr('y', 2530).attr('font-size', 9.5).attr('fill', '#8DA04A')
		.attr('textLength', 153).text('Climate Assessment for the Southwest');
	g.append('text').attr('x', 265).attr('y', 2538).attr('font-size', 7).attr('fill', '#E87722')
		.attr('textLength', 58).text('A NOAA RISA TEAM');

	// CSAP
	g.append('path')
		.attr('d', 'M360 2466 Q351 2466 351 2450 L351 2430 Q352 2412 372 2410 Q376 2395 395 2398 Q402 2384 432 2388 Q462 2386 468 2412 Q490 2402 504 2418 Q513 2430 513 2445 Q512 2466 496 2466 Z')
		.attr('fill', '#BDBDBD').attr('stroke', '#6E6E6E').attr('stroke-width', 4);
	g.append('text').attr('x', 427).attr('y', 2458).attr('text-anchor', 'middle')
		.attr('font-size', 42).attr('font-weight', 'bold').attr('fill', '#000080')
		.attr('textLength', 109).attr('lengthAdjust', 'spacingAndGlyphs').text('CSAP');
	g.append('path')
		.attr('d', 'M353 2470 L353 2510 Q354 2522 366 2522 L516 2522')
		.attr('fill', 'none').attr('stroke', '#333').attr('stroke-width', 4);
	d3.range(6).forEach(i => {
		g.append('line').attr('x1', 362 + i * 9.5).attr('x2', 362 + i * 9.5).attr('y1', 2470).attr('y2', i > 3 ? 2490 : 2518)
			.attr('stroke', '#0000CD').attr('stroke-width', 2);
	});
	g.append('path')
		.attr('d', 'M395 2519 L418 2482 L432 2506 L443 2494 L457 2519 Z')
		.attr('fill', '#5B0F5B').attr('stroke', '#0A7A0A').attr('stroke-width', 2.5);
	g.append('path')
		.attr('d', 'M457 2470 A12 12 0 0 0 483 2470')
		.attr('fill', 'none').attr('stroke', '#F5C518').attr('stroke-width', 3.5);
	g.append('text').attr('x', 433).attr('y', 2482).attr('text-anchor', 'middle')
		.attr('font-size', 20).attr('fill', '#999').text('*');
	g.append('path')
		.attr('d', 'M484 2520 L484 2498 M477 2504 L477 2511 L491 2511 L491 2504')
		.attr('fill', 'none').attr('stroke', '#3C9A1E').attr('stroke-width', 3.5);
	g.append('text').attr('x', 348).attr('y', 2536).attr('font-size', 13.5).attr('font-weight', 'bold').attr('fill', '#000080')
		.attr('textLength', 176).attr('lengthAdjust', 'spacingAndGlyphs').text('http://cals.arizona.edu/climate');

	// University block A
	g.append('path')
		.attr('d', 'M562 2419 L616 2419 L616 2440 L608 2440 L624 2484 L635 2484 L635 2503 L596 2503 L596 2484 L602 2484 L599 2474 L577 2474 L574 2484 L580 2484 L580 2503 L542 2503 L542 2484 L552 2484 L569 2440 L562 2440 Z')
		.attr('fill', '#0C234B');
	g.append('path')
		.attr('d', 'M569 2424 L609 2424 L609 2435 L601 2435 L619 2489 L630 2489 L630 2498 L601 2498 L601 2489 L608 2489 L603 2469 L573 2469 L568 2489 L575 2489 L575 2498 L547 2498 L547 2489 L557 2489 L575 2435 L569 2435 Z')
		.attr('fill', '#fff');
	g.append('path')
		.attr('d', 'M588 2430 L578 2430 L590 2430 L614 2490 L603 2490 L598 2466 L578 2466 L573 2490 L562 2490 L582 2432 Z M588 2445 L581 2458 L595 2458 Z')
		.attr('fill', '#AB0520').attr('fill-rule', 'evenodd');
	g.append('line').attr('x1', 660).attr('x2', 660).attr('y1', 2416).attr('y2', 2506)
		.attr('stroke', '#0C234B').attr('stroke-width', 1.5);
	g.append('text').attr('x', 682).attr('y', 2446).attr('font-size', 17).attr('fill', '#0C234B')
		.style('font-family', '"Open Sans", sans-serif')
		.attr('textLength', 259).attr('lengthAdjust', 'spacingAndGlyphs').text('THE UNIVERSITY OF ARIZONA');
	g.append('text').attr('x', 682).attr('y', 2490).attr('font-size', 40).attr('fill', '#0C234B')
		.style('font-family', '"Open Sans", sans-serif')
		.attr('textLength', 428).attr('lengthAdjust', 'spacingAndGlyphs').text('Cooperative Extension');
}
</script>
</body>
</html>
